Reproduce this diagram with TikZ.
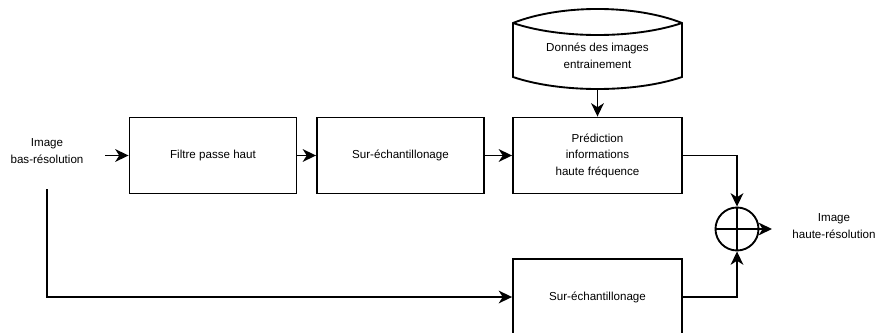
\documentclass[tikz,border=0pt]{standalone}
\usepackage{fontspec}
\setmainfont{Liberation Sans}
\usetikzlibrary{arrows.meta}

\begin{document}
\begin{tikzpicture}[x=0.75pt,y=0.75pt,yscale=-1,xscale=1,
	every node/.style={font=\fontsize{8.7}{12.4}\selectfont,align=center},
	bloc/.style={draw,line width=1.4pt,minimum width=125.25pt,minimum height=57pt,inner sep=0pt},
	fleche/.style={line width=1.4pt,-{Stealth[length=10pt,width=9.5pt,inset=3pt]}},
	trait/.style={line width=1.4pt}]
			\useasboundingbox (0,0) rectangle (878,332);
			\clip (0,0) rectangle (878,332);
			
			% blocs
			\node[bloc] (filtre) at (213,155.5) {Filtre passe haut};
			\node[bloc] (surech) at (400.5,155.5) {Sur-\'echantillonage};
			\node[bloc,minimum width=126.75pt] (pred) at (597.5,155.5) {Pr\'ediction\\informations\\haute fr\'equence};
			\node[bloc,minimum width=126.75pt] (surechbas) at (597.5,297) {Sur-\'echantillonage};
			\node[draw,circle,line width=1.4pt,minimum size=32.25pt,inner sep=0pt] (somme) at (737,229) {};
			
			% base de donnees
			\draw[trait] (513,77) -- (513,23) .. controls (560,4.3) and (635,4.3) .. (682,23) -- (682,77) .. controls (635,93) and (560,93) .. cycle;
			\draw[trait] (513,23) .. controls (560,39) and (635,39) .. (682,23);
			\node (donnees) at (597.5,56) {Donn\'es des images\\entrainement};
			\coordinate (donneesbas) at (597.5,89);
			
			% textes entree / sortie
			\node (entree) at (47,151) {Image\\bas-r\'esolution};
			\node (sortie) at (834,226) {Image\\haute-r\'esolution};
			\coordinate (entreefl) at (105,155.5);
			\coordinate (entreebas) at (47,189);
			\coordinate (sortiefl) at (772,229);
			
			% liaisons
			\draw[fleche] (entreefl) -- (filtre.west);
			\draw[fleche] (filtre.east) -- (surech.west);
			\draw[fleche] (surech.east) -- (pred.west);
			\draw[fleche] (donneesbas) -- (pred.north);
			\draw[fleche] (entreebas) |- (surechbas.west);
			\draw[fleche] (pred.east) -| (somme.north);
			\draw[fleche] (surechbas.east) -| (somme.south);
			\draw[fleche] (somme.east) -- (sortiefl);
			\draw[trait] (somme.north) -- (somme.south);
			\draw[trait] (somme.west) -- (somme.east);
\end{tikzpicture}
\end{document}
